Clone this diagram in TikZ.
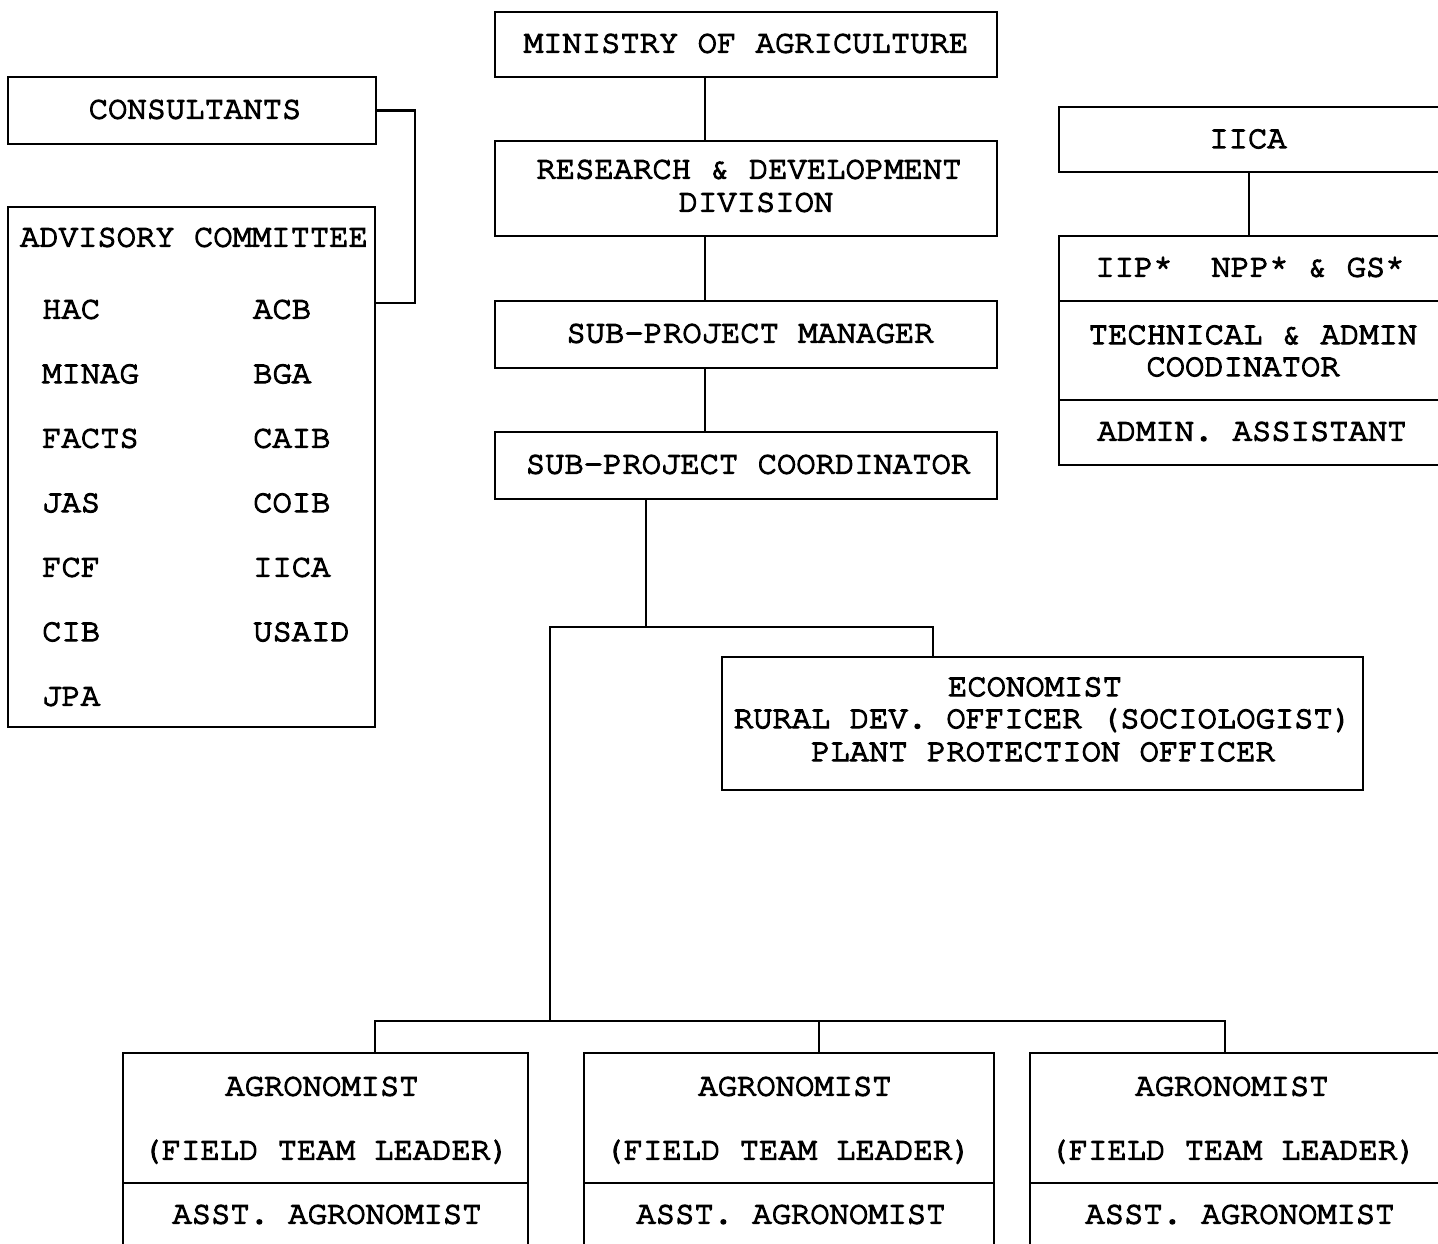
\documentclass[tikz,border=0pt]{standalone}
\usepackage{fontspec}
\usetikzlibrary{fit}
\newfontfamily\tw[FakeBold=4]{texgyrecursor-regular.otf}
\begin{document}
\begin{tikzpicture}[x=1pt,y=-1pt,
  box/.style={draw, line width=2.3pt, inner sep=0pt},
  txt/.style={inner sep=0pt, anchor=base, yshift=1.5pt, font=\tw\fontsize{32.2pt}{33pt}\selectfont},
  ltxt/.style={txt, anchor=base west},
  conn/.style={line width=2.3pt, line join=miter}]
\useasboundingbox[fill=white] (0,0) rectangle (1438,1244);
\clip (0,0) rectangle (1438,1244);

% central column
\node[box, fit={(495,12) (997,77)}] (min) {};
\node[txt] (tmin) at (746,54) {MINISTRY OF AGRICULTURE};
\node[box, fit={(495,141) (997,236)}] (rd) {};
\node[txt] (trd1) at (749,180) {RESEARCH \& DEVELOPMENT};
\node[txt] (trd2) at (756,213) {DIVISION};
\node[box, fit={(495,301) (997,368)}] (spm) {};
\node[txt] (tspm) at (750,344) {SUB-PROJECT MANAGER};
\node[box, fit={(495,432) (997,499)}] (spc) {};
\node[txt] (tspc) at (748,475) {SUB-PROJECT COORDINATOR};

% consultants and advisory committee
\node[box, fit={(8,77) (376,144)}] (cons) {};
\node[txt] (tcons) at (195,120) {CONSULTANTS};
\node[box, fit={(8,207) (375,727)}] (adv) {};
\node[txt] (tadv) at (194,248) {ADVISORY COMMITTEE};
\node[ltxt] (a1) at (42,320) {HAC};
\node[ltxt] (a2) at (42,384.5) {MINAG};
\node[ltxt] (a3) at (42,449) {FACTS};
\node[ltxt] (a4) at (42,513.5) {JAS};
\node[ltxt] (a5) at (42,578) {FCF};
\node[ltxt] (a6) at (42,642.5) {CIB};
\node[ltxt] (a7) at (42,707) {JPA};
\node[ltxt] (b1) at (253,320) {ACB};
\node[ltxt] (b2) at (253,384.5) {BGA};
\node[ltxt] (b3) at (253,449) {CAIB};
\node[ltxt] (b4) at (253,513.5) {COIB};
\node[ltxt] (b5) at (253,578) {IICA};
\node[ltxt] (b6) at (253,642.5) {USAID};

% IICA group
\node[box, fit={(1059,107) (1460,172)}] (iica) {};
\node[txt] (tiica) at (1248,149.5) {IICA};
\node[box, fit={(1059,236) (1460,301)}] (iip) {};
\node[txt] (tiip) at (1250,278) {IIP*\ \ NPP* \& GS*};
\node[box, fit={(1059,301) (1460,400)}] (tech) {};
\node[txt] (ttech1) at (1253,345.5) {TECHNICAL \& ADMIN};
\node[txt] (ttech2) at (1243,377.5) {COODINATOR};
\node[box, fit={(1059,400) (1460,465)}] (asst) {};
\node[txt] (tasst) at (1252,442) {ADMIN. ASSISTANT};

% economist box
\node[box, fit={(722,657) (1363,790)}] (econ) {};
\node[txt] (te1) at (1035,697.5) {ECONOMIST};
\node[txt] (te2) at (1043,729.5) {RURAL DEV. OFFICER (SOCIOLOGIST)};
\node[txt] (te3) at (1043,762.5) {PLANT PROTECTION OFFICER};

% agronomist boxes
\node[box, fit={(123,1053) (528,1183)}] (ag1) {};
\node[box, fit={(123,1183) (528,1270)}] (as1) {};
\node[txt] (tag1a) at (322,1097) {AGRONOMIST};
\node[txt] (tag1b) at (326,1161) {(FIELD TEAM LEADER)};
\node[txt] (tas1) at (327,1225) {ASST. AGRONOMIST};

\node[box, fit={(584,1053) (994,1183)}] (ag2) {};
\node[box, fit={(584,1183) (994,1270)}] (as2) {};
\node[txt] (tag2a) at (795,1097) {AGRONOMIST};
\node[txt] (tag2b) at (788,1161) {(FIELD TEAM LEADER)};
\node[txt] (tas2) at (791,1225) {ASST. AGRONOMIST};

\node[box, fit={(1030,1053) (1460,1183)}] (ag3) {};
\node[box, fit={(1030,1183) (1460,1270)}] (as3) {};
\node[txt] (tag3a) at (1232,1097) {AGRONOMIST};
\node[txt] (tag3b) at (1233,1161) {(FIELD TEAM LEADER)};
\node[txt] (tas3) at (1240,1225) {ASST. AGRONOMIST};

% connectors
\coordinate (cx) at (705,0);
\draw[conn] (min.south -| cx) -- (rd.north -| cx);
\draw[conn] (rd.south -| cx) -- (spm.north -| cx);
\draw[conn] (spm.south -| cx) -- (spc.north -| cx);

\coordinate (k) at (415,303);
\draw[conn] (cons.east) -| (k) -- (adv.east |- k);

\coordinate (ix) at (1249,0);
\draw[conn] (iica.south -| ix) -- (iip.north -| ix);

\coordinate (bS) at (646,627);
\coordinate (bL) at (550,627);
\coordinate (bR) at (933,627);
\coordinate (cL) at (550,1021);
\coordinate (hL) at (375,1021);
\coordinate (hM) at (819,1021);
\coordinate (hR) at (1225,1021);
\draw[conn] (spc.south -| bS) -- (bS);
\draw[conn] (econ.north -| bR) -- (bR) -- (bL) -- (cL);
\draw[conn] (ag1.north -| hL) -- (hL) -- (hR) -- (ag3.north -| hR);
\draw[conn] (hM) -- (ag2.north -| hM);
\end{tikzpicture}
\end{document}
